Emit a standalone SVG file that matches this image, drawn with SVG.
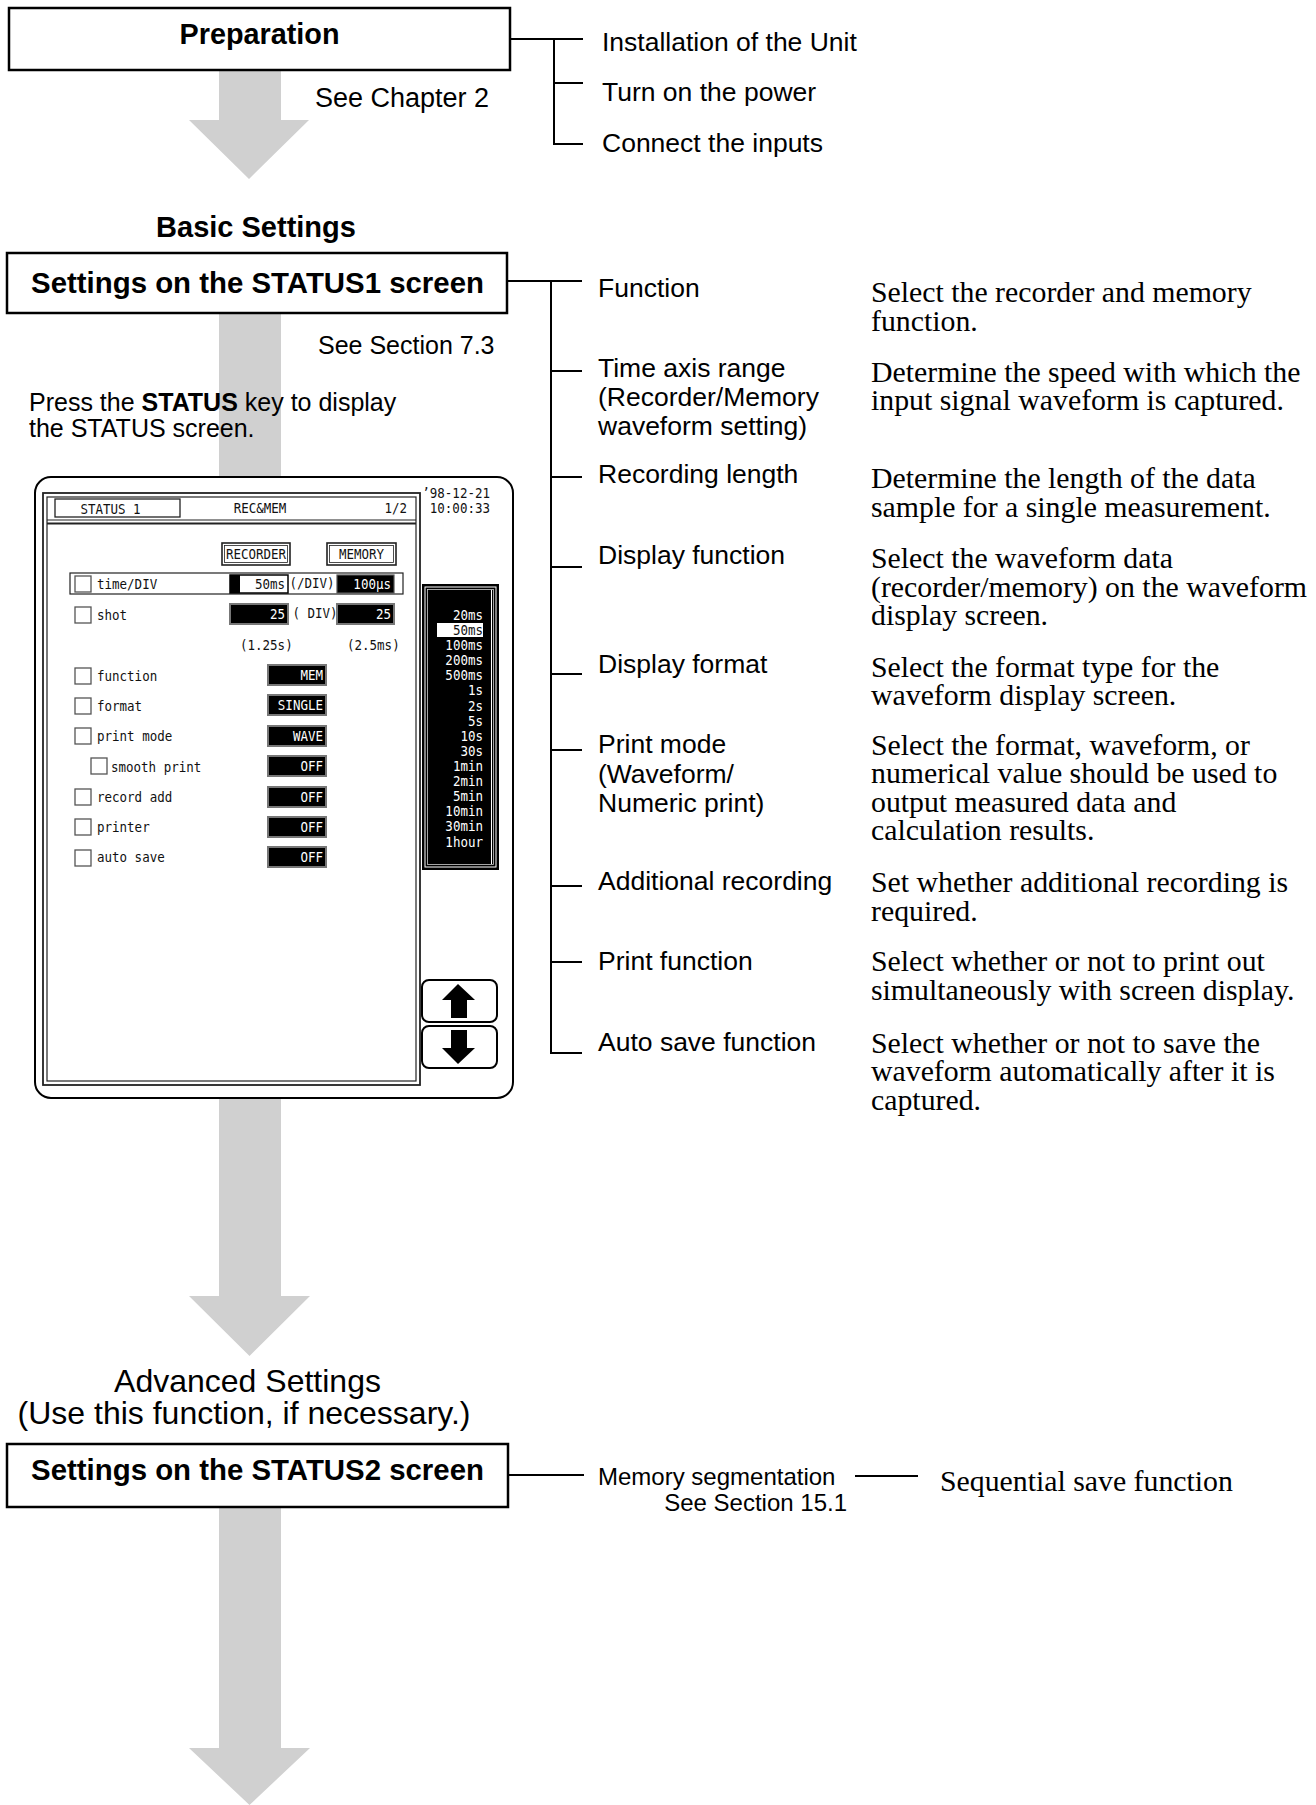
<svg xmlns="http://www.w3.org/2000/svg" width="1316" height="1805" viewBox="0 0 1316 1805">
<style>
.s{font-family:"Liberation Sans",Arial,sans-serif;fill:#000}
.b{font-weight:bold}
.lab{font-size:26.5px}
.r{font-family:"Liberation Serif","Times New Roman",serif;font-size:29.8px;fill:#000}
.m{font-family:"DejaVu Sans Mono","Liberation Mono",monospace;font-size:12.5px;fill:#111}
.w{fill:#fff}
.e{text-anchor:end}
.c{text-anchor:middle}
.arrow{fill:#d0d0d0}
.conn{stroke:#000;stroke-width:2;fill:none}
.box{fill:#fff;stroke:#000;stroke-width:2.5}
.cb{fill:#fff;stroke:#555;stroke-width:1.3}
.vb{fill:#000;stroke:#777;stroke-width:2}
.ln{fill:none;stroke:#222}
</style>
<rect width="1316" height="1805" fill="#fff"/>

<g id="flow-arrows">
<polygon class="arrow" points="219,70 281,70 281,120 309,120 249,179 189,120 219,120"/>
<polygon class="arrow" points="219,313 281,313 281,1296 310,1296 249.5,1356 189,1296 219,1296"/>
<polygon class="arrow" points="219,1507 281,1507 281,1748 310,1748 249.5,1805 189,1748 219,1748"/>
</g>

<g id="connectors">
<path class="conn" d="M510,39 H583 M554,39 V144 H583 M554,83 H583"/>
<path class="conn" d="M507,281 H582 M551,281 V1053 H582 M551,371 H582 M551,477 H582 M551,567 H582 M551,674 H582 M551,750 H582 M551,886 H582 M551,962 H582"/>
<path class="conn" d="M508,1475 H584 M855,1476 H918"/>
</g>

<g id="node-preparation">
<rect class="box" x="9" y="8" width="501" height="62"/>
<text class="s b c" x="259.5" y="44" font-size="28.8">Preparation</text>
<text class="s" x="315" y="107" font-size="27">See Chapter 2</text>
</g>

<g id="prep-items">
<text class="s lab" x="602" y="51">Installation of the Unit</text>
<text class="s lab" x="602" y="101">Turn on the power</text>
<text class="s lab" x="602" y="152">Connect the inputs</text>
</g>

<g id="heading-basic">
<text class="s b c" x="256" y="237" font-size="29">Basic Settings</text>
</g>

<g id="node-status1">
<rect class="box" x="7" y="253" width="500" height="60"/>
<text class="s b c" x="257.5" y="293" font-size="29.4">Settings on the STATUS1 screen</text>
<text class="s" x="318" y="354" font-size="25">See Section 7.3</text>
<text class="s" x="29" y="411" font-size="25">Press the <tspan font-weight="bold">STATUS</tspan> key to display<tspan x="29" y="437">the STATUS screen.</tspan></text>
</g>

<g id="status1-items">
<text class="s lab" x="598" y="297">Function</text>
<text class="r" x="871" y="302">Select the recorder and memory<tspan x="871" y="331">function.</tspan></text>

<text class="s lab" x="598" y="377">Time axis range<tspan x="598" y="406">(Recorder/Memory</tspan><tspan x="598" y="435">waveform setting)</tspan></text>
<text class="r" x="871" y="382">Determine the speed with which the<tspan x="871" y="410">input signal waveform is captured.</tspan></text>

<text class="s lab" x="598" y="483">Recording length</text>
<text class="r" x="871" y="488">Determine the length of the data<tspan x="871" y="517">sample for a single measurement.</tspan></text>

<text class="s lab" x="598" y="564">Display function</text>
<text class="r" x="871" y="568">Select the waveform data<tspan x="871" y="597">(recorder/memory) on the waveform</tspan><tspan x="871" y="625">display screen.</tspan></text>

<text class="s lab" x="598" y="673">Display format</text>
<text class="r" x="871" y="677">Select the format type for the<tspan x="871" y="705">waveform display screen.</tspan></text>

<text class="s lab" x="598" y="753">Print mode<tspan x="598" y="783">(Waveform/</tspan><tspan x="598" y="812">Numeric print)</tspan></text>
<text class="r" x="871" y="755">Select the format, waveform, or<tspan x="871" y="783">numerical value should be used to</tspan><tspan x="871" y="812">output measured data and</tspan><tspan x="871" y="840">calculation results.</tspan></text>

<text class="s lab" x="598" y="890">Additional recording</text>
<text class="r" x="871" y="892">Set whether additional recording is<tspan x="871" y="921">required.</tspan></text>

<text class="s lab" x="598" y="970">Print function</text>
<text class="r" x="871" y="971">Select whether or not to print out<tspan x="871" y="1000">simultaneously with screen display.</tspan></text>

<text class="s lab" x="598" y="1051">Auto save function</text>
<text class="r" x="871" y="1053">Select whether or not to save the<tspan x="871" y="1081">waveform automatically after it is</tspan><tspan x="871" y="1110">captured.</tspan></text>
</g>

<g id="status-screen">
<rect x="35" y="477" width="478" height="621" rx="16" fill="#fff" stroke="#000" stroke-width="2"/>
<rect class="ln" x="43" y="493" width="377" height="592" stroke-width="1.8"/>
<rect class="ln" x="47" y="497" width="369" height="584" stroke-width="1.2"/>
<line class="ln" x1="47" y1="520" x2="416" y2="520" stroke-width="1.2"/>
<line class="ln" x1="47" y1="523.5" x2="416" y2="523.5" stroke-width="1.8"/>
<rect class="ln" x="55" y="499" width="125" height="18" stroke-width="1.3"/>
<text class="m c" transform="translate(110.5 514) scale(1 1.15)">STATUS 1</text>
<text class="m c" transform="translate(260 513) scale(1 1.15)">REC&amp;MEM</text>
<text class="m e" transform="translate(407 513) scale(1 1.15)">1/2</text>
<text class="m e" transform="translate(490 498) scale(1 1.15)">’98-12-21</text>
<text class="m e" transform="translate(490 513) scale(1 1.15)">10:00:33</text>

<rect class="ln" x="222" y="543" width="68" height="22" stroke-width="1.6"/>
<rect class="ln" x="224.5" y="545.5" width="63" height="17" stroke-width="0.8"/>
<text class="m c" transform="translate(256 559) scale(1 1.15)">RECORDER</text>
<rect class="ln" x="327" y="543" width="69" height="22" stroke-width="1.6"/>
<rect class="ln" x="329.5" y="545.5" width="64" height="17" stroke-width="0.8"/>
<text class="m c" transform="translate(361.5 559) scale(1 1.15)">MEMORY</text>

<rect class="ln" x="70" y="573" width="333" height="21" stroke-width="1.2"/>
<rect class="cb" x="75" y="576" width="16" height="16"/>
<text class="m" transform="translate(97 589) scale(1 1.15)">time/DIV</text>
<rect x="230" y="575" width="58" height="18" fill="#fff" stroke="#000" stroke-width="1.5"/>
<rect x="230" y="575" width="10" height="18" fill="#000"/>
<text class="m e" transform="translate(285 589) scale(1 1.15)">50ms</text>
<text class="m c" font-size="10" transform="translate(312 588) scale(1 1.15)">(/DIV)</text>
<rect x="337" y="575" width="57" height="18" fill="#000" stroke="#555" stroke-width="1.2"/>
<text class="m e w" transform="translate(391 589) scale(1 1.15)">100μs</text>

<rect class="cb" x="75" y="607" width="16" height="16"/>
<text class="m" transform="translate(97 620) scale(1 1.15)">shot</text>
<rect class="vb" x="230" y="604" width="58" height="20"/>
<text class="m e w" transform="translate(285 619) scale(1 1.15)">25</text>
<text class="m c" font-size="10" transform="translate(315 618) scale(1 1.15)">( DIV)</text>
<rect class="vb" x="337" y="604" width="57" height="20"/>
<text class="m e w" transform="translate(391 619) scale(1 1.15)">25</text>
<text class="m" transform="translate(240 650) scale(1 1.15)">(1.25s)</text>
<text class="m" transform="translate(347 650) scale(1 1.15)">(2.5ms)</text>

<rect class="cb" x="75" y="668" width="16" height="16"/>
<text class="m" transform="translate(97 681) scale(1 1.15)">function</text>
<rect class="vb" x="268" y="665" width="58" height="20"/>
<text class="m e w" transform="translate(323 680) scale(1 1.15)">MEM</text>

<rect class="cb" x="75" y="698" width="16" height="16"/>
<text class="m" transform="translate(97 711) scale(1 1.15)">format</text>
<rect class="vb" x="268" y="695" width="58" height="20"/>
<text class="m e w" transform="translate(323 710) scale(1 1.15)">SINGLE</text>

<rect class="cb" x="75" y="728" width="16" height="16"/>
<text class="m" transform="translate(97 741) scale(1 1.15)">print mode</text>
<rect class="vb" x="268" y="726" width="58" height="20"/>
<text class="m e w" transform="translate(323 741) scale(1 1.15)">WAVE</text>

<rect class="cb" x="91" y="758" width="16" height="16"/>
<text class="m" transform="translate(111 772) scale(1 1.15)">smooth print</text>
<rect class="vb" x="268" y="756" width="58" height="20"/>
<text class="m e w" transform="translate(323 771) scale(1 1.15)">OFF</text>

<rect class="cb" x="75" y="789" width="16" height="16"/>
<text class="m" transform="translate(97 802) scale(1 1.15)">record add</text>
<rect class="vb" x="268" y="787" width="58" height="20"/>
<text class="m e w" transform="translate(323 802) scale(1 1.15)">OFF</text>

<rect class="cb" x="75" y="819" width="16" height="16"/>
<text class="m" transform="translate(97 832) scale(1 1.15)">printer</text>
<rect class="vb" x="268" y="817" width="58" height="20"/>
<text class="m e w" transform="translate(323 832) scale(1 1.15)">OFF</text>

<rect class="cb" x="75" y="850" width="16" height="16"/>
<text class="m" transform="translate(97 862) scale(1 1.15)">auto save</text>
<rect class="vb" x="268" y="847" width="58" height="20"/>
<text class="m e w" transform="translate(323 862) scale(1 1.15)">OFF</text>

<rect x="422" y="584" width="77" height="286" fill="#000"/>
<rect x="425" y="587" width="71" height="280" fill="none" stroke="#fff" stroke-width="1"/>
<rect x="427.5" y="589.5" width="66" height="275" fill="none" stroke="#ccc" stroke-width="0.8"/>
<line x1="491.5" y1="590" x2="491.5" y2="864" stroke="#fff" stroke-width="1"/>
<rect x="437" y="623" width="46" height="14" fill="#fff"/>
<text class="m e w" transform="translate(483 620) scale(1 1.15)">20ms</text>
<text class="m e" transform="translate(483 635) scale(1 1.15)">50ms</text>
<text class="m e w" transform="translate(483 650) scale(1 1.15)">100ms</text>
<text class="m e w" transform="translate(483 665) scale(1 1.15)">200ms</text>
<text class="m e w" transform="translate(483 680) scale(1 1.15)">500ms</text>
<text class="m e w" transform="translate(483 695) scale(1 1.15)">1s</text>
<text class="m e w" transform="translate(483 711) scale(1 1.15)">2s</text>
<text class="m e w" transform="translate(483 726) scale(1 1.15)">5s</text>
<text class="m e w" transform="translate(483 741) scale(1 1.15)">10s</text>
<text class="m e w" transform="translate(483 756) scale(1 1.15)">30s</text>
<text class="m e w" transform="translate(483 771) scale(1 1.15)">1min</text>
<text class="m e w" transform="translate(483 786) scale(1 1.15)">2min</text>
<text class="m e w" transform="translate(483 801) scale(1 1.15)">5min</text>
<text class="m e w" transform="translate(483 816) scale(1 1.15)">10min</text>
<text class="m e w" transform="translate(483 831) scale(1 1.15)">30min</text>
<text class="m e w" transform="translate(483 847) scale(1 1.15)">1hour</text>

<rect x="422" y="980" width="75" height="42" rx="7" fill="#fff" stroke="#000" stroke-width="2"/>
<polygon points="458,984 475,1000 467,1000 467,1018 451,1018 451,1000 442,1000" fill="#000"/>
<rect x="422" y="1026" width="75" height="42" rx="7" fill="#fff" stroke="#000" stroke-width="2"/>
<polygon points="451,1030 467,1030 467,1048 475,1048 458,1064 442,1048 451,1048" fill="#000"/>
</g>

<g id="heading-advanced">
<text class="s c" x="247.5" y="1392" font-size="32">Advanced Settings<tspan x="244" y="1424">(Use this function, if necessary.)</tspan></text>
</g>

<g id="node-status2">
<rect class="box" x="7" y="1444" width="501" height="63"/>
<text class="s b c" x="257.5" y="1480" font-size="29.4">Settings on the STATUS2 screen</text>
</g>

<g id="status2-items">
<text class="s" x="598" y="1485" font-size="24">Memory segmentation</text>
<text class="s e" x="847" y="1511" font-size="24">See Section 15.1</text>
<text class="r" x="940" y="1491">Sequential save function</text>
</g>
</svg>
